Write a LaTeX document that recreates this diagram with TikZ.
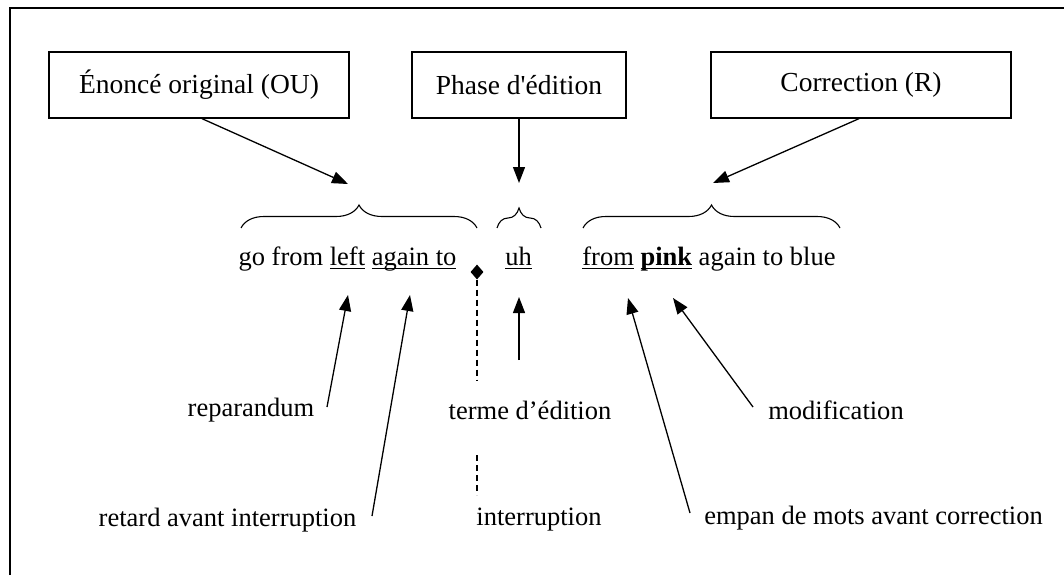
\documentclass[tikz,border=0pt]{standalone}
\usepackage{fontspec}
\setmainfont{Liberation Serif}
\usetikzlibrary{arrows.meta,decorations.pathreplacing,shapes.geometric}
\newcommand\myul[1]{\setbox0\hbox{#1}\rlap{\vrule width\wd0 height -2.8pt depth 4.3pt}\box0\relax}
\begin{document}
\begin{tikzpicture}[x=1pt,y=-1pt,
  every node/.style={font=\fontsize{26.5}{30}\selectfont, inner sep=0pt},
  topbox/.style={draw, line width=1.3pt, minimum height=66pt, font=\fontsize{27.5}{32}\selectfont},
  arr/.style={line width=1.3pt, -{Triangle[length=16pt,width=12pt]}},
  brc/.style={line width=1.1pt, decorate, decoration={brace, amplitude=23pt}},
  lbl/.style={anchor=center}
]
\useasboundingbox (0,0) rectangle (1064,575);
% frame (top and left edges visible)
\draw[line width=1.3pt] (10,575) -- (10,8) -- (1064,8);

% top boxes
\node[topbox, minimum width=300pt] (ou) at (199,85) {Énoncé original (OU)};
\node[topbox, minimum width=214pt] (ph) at (519,85) {Phase d\textquotesingle édition};
\node[topbox, minimum width=300pt] (co) at (861,85) {Correction (R)};

% braces
\coordinate (b1l) at (241,228); \coordinate (b1r) at (477,228);
\coordinate (b2l) at (497,228); \coordinate (b2r) at (541,228);
\coordinate (b3l) at (583,228); \coordinate (b3r) at (840,228);
\draw[brc] (b1l) -- (b1r);
\draw[brc, decoration={brace, amplitude=20pt}] (b2l) -- (b2r);
\draw[brc] (b3l) -- (b3r);

% utterance
\node[anchor=base] (u1) at (347.5,265) {go from \myul{left} \myul{again to}};
\node[anchor=base] (u2) at (518.5,265) {\myul{uh}};
\node[anchor=base] (u3) at (709,265) {\myul{from} \myul{\textbf{pink}} again to blue};

% arrows from top boxes
\coordinate (t1) at (348,184);
\coordinate (t2) at (519,183);
\coordinate (t3) at (713,183);
\draw[arr] (ou.south -| 202,0) -- (t1);
\draw[arr] (ph.south) -- (t2);
\draw[arr] (co.south -| 859,0) -- (t3);

% interruption point
\node[diamond, fill=black, minimum width=13pt, minimum height=15pt] (dia) at (477,272) {};
\coordinate (d1) at (477,380);
\coordinate (d2) at (477,455);
\coordinate (d3) at (477,495);
\draw[line width=1.1pt, dash pattern=on 6pt off 4pt] (dia) -- (d1);
\draw[line width=1.1pt, dash pattern=on 6pt off 4pt] (d2) -- (d3);

% labels
\node[lbl] (rep) at (251,410) {reparandum};
\node[lbl] (ret) at (227.5,520) {retard avant interruption};
\node[lbl] (ter) at (530,410) {terme d’édition};
\node[lbl] (int) at (539,520) {interruption};
\node[lbl] (mod) at (836,410) {modification};
\node[lbl] (emp) at (873.5,518) {empan de mots avant correction};

% arrows from labels
\coordinate (s1) at (327,407); \coordinate (e1) at (348,295);
\coordinate (s2) at (372,516); \coordinate (e2) at (410,295);
\coordinate (s3) at (519,360); \coordinate (e3) at (519,297);
\coordinate (s4) at (690,513); \coordinate (e4) at (628,298);
\coordinate (s5) at (753,407); \coordinate (e5) at (673,298);
\draw[arr] (s1) -- (e1);
\draw[arr] (s2) -- (e2);
\draw[arr] (s3) -- (e3);
\draw[arr] (s4) -- (e4);
\draw[arr] (s5) -- (e5);
\end{tikzpicture}
\end{document}
